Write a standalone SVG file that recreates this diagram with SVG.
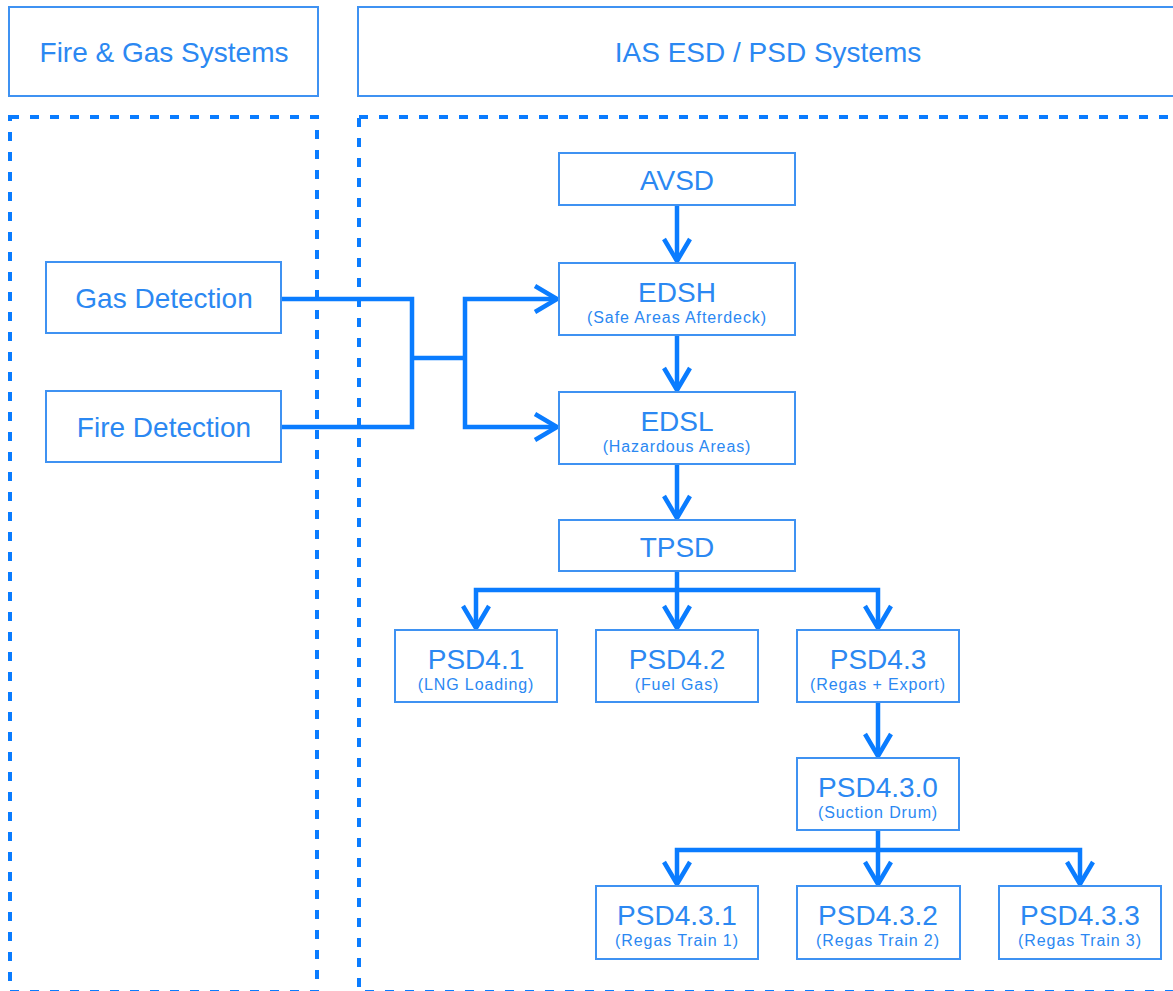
<svg xmlns="http://www.w3.org/2000/svg" width="1173" height="991" viewBox="0 0 1173 991">
<defs>
<style>
.hdr{fill:#fff;stroke:#3f92f2;stroke-width:2}
.box{fill:#fff;stroke:#3f92f2;stroke-width:2}
.zone{fill:none;stroke:#0a7cff;stroke-width:4;stroke-dasharray:9 11}
.t{font-family:"Liberation Sans",Arial,sans-serif;fill:#2b88f2;text-anchor:middle}
.big{font-size:28px}
.hd{font-size:28px}
.sub{font-size:16px;letter-spacing:0.9px}
.c{fill:none;stroke:#0a7cff;stroke-width:4.5;stroke-linejoin:miter}
.a{marker-end:url(#arr)}
</style>
<marker id="arr" markerUnits="userSpaceOnUse" orient="auto" markerWidth="34" markerHeight="34" viewBox="-26 -17 34 34" refX="0" refY="0" overflow="visible">
<path d="M -22 -13 L 0 0 L -22 13" fill="none" stroke="#0a7cff" stroke-width="4.5"/>
</marker>
</defs>
<rect width="1173" height="991" fill="#fff"/>

<g id="zone-fire-gas">
<rect class="hdr" x="9" y="7" width="309" height="89"/>
<text class="t hd" x="164" y="62">Fire &amp; Gas Systems</text>
<rect class="zone" x="10" y="117" width="307" height="875"/>
</g>
<g id="zone-ias">
<rect class="hdr" x="358" y="7" width="830" height="89"/>
<text class="t hd" x="768" y="62">IAS ESD / PSD Systems</text>
<rect class="zone" x="359" y="117" width="830" height="875"/>
</g>

<g id="connectors">
<path class="c" d="M281 299 H412 V427 H281"/>
<path class="c" d="M412 358 H465"/>
<path class="c a" d="M465 358 V299 H557"/>
<path class="c a" d="M465 358 V427 H557"/>
<path class="c a" d="M677 205 V261"/>
<path class="c a" d="M677 335 V390"/>
<path class="c a" d="M677 464 V518"/>
<path class="c" d="M677 571 V590"/>
<path class="c a" d="M677 590 H476 V628"/>
<path class="c a" d="M677 590 V628"/>
<path class="c a" d="M677 590 H878 V628"/>
<path class="c a" d="M878 702 V756"/>
<path class="c" d="M878 830 V850"/>
<path class="c a" d="M878 850 H677 V884"/>
<path class="c a" d="M878 850 V884"/>
<path class="c a" d="M878 850 H1080 V884"/>
</g>

<g id="gas-detection">
<rect class="box" x="46" y="262" width="235" height="71"/>
<text class="t big" x="164" y="308">Gas Detection</text>
</g>
<g id="fire-detection">
<rect class="box" x="46" y="391" width="235" height="71"/>
<text class="t big" x="164" y="437">Fire Detection</text>
</g>

<g id="avsd">
<rect class="box" x="559" y="153" width="236" height="52"/>
<text class="t big" x="677" y="190">AVSD</text>
</g>
<g id="edsh">
<rect class="box" x="559" y="263" width="236" height="72"/>
<text class="t big" x="677" y="302">EDSH</text>
<text class="t sub" x="677" y="323">(Safe Areas Afterdeck)</text>
</g>
<g id="edsl">
<rect class="box" x="559" y="392" width="236" height="72"/>
<text class="t big" x="677" y="431">EDSL</text>
<text class="t sub" x="677" y="452">(Hazardous Areas)</text>
</g>
<g id="tpsd">
<rect class="box" x="559" y="520" width="236" height="51"/>
<text class="t big" x="677" y="557">TPSD</text>
</g>

<g id="psd4-1">
<rect class="box" x="395" y="630" width="162" height="72"/>
<text class="t big" x="476" y="669">PSD4.1</text>
<text class="t sub" x="476" y="690">(LNG Loading)</text>
</g>
<g id="psd4-2">
<rect class="box" x="596" y="630" width="162" height="72"/>
<text class="t big" x="677" y="669">PSD4.2</text>
<text class="t sub" x="677" y="690">(Fuel Gas)</text>
</g>
<g id="psd4-3">
<rect class="box" x="797" y="630" width="162" height="72"/>
<text class="t big" x="878" y="669">PSD4.3</text>
<text class="t sub" x="878" y="690">(Regas + Export)</text>
</g>
<g id="psd4-3-0">
<rect class="box" x="797" y="758" width="162" height="72"/>
<text class="t big" x="878" y="797">PSD4.3.0</text>
<text class="t sub" x="878" y="818">(Suction Drum)</text>
</g>

<g id="psd4-3-1">
<rect class="box" x="596" y="886" width="162" height="73"/>
<text class="t big" x="677" y="925">PSD4.3.1</text>
<text class="t sub" x="677" y="946">(Regas Train 1)</text>
</g>
<g id="psd4-3-2">
<rect class="box" x="797" y="886" width="163" height="73"/>
<text class="t big" x="878" y="925">PSD4.3.2</text>
<text class="t sub" x="878" y="946">(Regas Train 2)</text>
</g>
<g id="psd4-3-3">
<rect class="box" x="999" y="886" width="162" height="73"/>
<text class="t big" x="1080" y="925">PSD4.3.3</text>
<text class="t sub" x="1080" y="946">(Regas Train 3)</text>
</g>
</svg>
